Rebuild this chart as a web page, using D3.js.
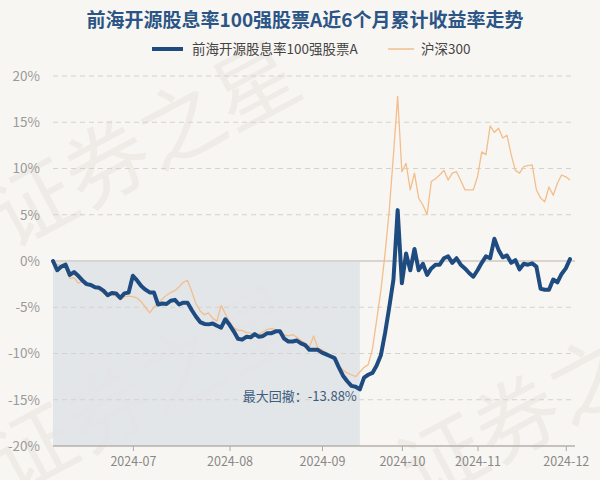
<!DOCTYPE html>
<html lang="zh">
<head>
<meta charset="utf-8">
<title>前海开源股息率100强股票A近6个月累计收益率走势</title>
<script src="https://d3js.org/d3.v7.min.js"></script>
<style>
  body { margin: 0; background: #f8f6f2; }
  svg { display: block; font-family: "Noto Sans CJK SC", "Noto Sans", sans-serif; }
</style>
</head>
<body>
<svg width="600" height="480"></svg>
<script>
// month tick labels and the trading-day index they sit on
var tickLabels = ["2024-07", "2024-08", "2024-09", "2024-10", "2024-11", "2024-12"];
var tickIdx = [19, 42, 64, 83, 101, 122];
var yTicks = [-20, -15, -10, -5, 0, 5, 10, 15, 20];

var seriesNames = ["前海开源股息率100强股票A", "沪深300"];

// cumulative return (%) per trading day
var fund = [0, -1.0, -0.6, -0.4, -1.5, -1.2, -1.6, -2.1, -2.5, -2.6,
  -2.85, -2.9, -3.2, -3.7, -3.45, -3.5, -4.0, -3.5, -3.4, -1.6,
  -2.1, -2.7, -3.1, -3.4, -3.4, -4.7, -4.6, -4.65, -4.3, -4.2,
  -4.7, -4.5, -4.5, -5.3, -6.0, -6.6, -6.8, -6.85, -6.75, -7.0,
  -7.2, -6.3, -6.9, -7.6, -8.4, -8.5, -8.2, -8.25, -7.9, -8.2,
  -8.1, -7.8, -7.8, -7.6, -7.6, -8.4, -8.7, -8.7, -8.6, -8.9,
  -9.1, -9.6, -9.6, -9.6, -9.9, -10.1, -10.3, -10.5, -11.5, -12.4,
  -13.0, -13.5, -13.6, -13.88, -12.6, -12.3, -12.1, -11.3, -10.2, -7.8,
  -5.0, -2.0, 5.5, -2.4, 0.8, -1.0, 1.3, -1.0, -0.3, -1.5,
  -0.8, -0.4, -0.4, 0.3, 0.5, -0.2, 0.3, -0.4, -0.8, -1.3,
  -1.7, -1.0, -0.2, 0.5, 0.3, 2.4, 1.2, 0.4, 0.6, -0.2,
  0.1, -0.9, -0.3, -0.4, -0.25, -0.6, -3.0, -3.1, -3.1, -2.0,
  -2.3, -1.4, -0.8, 0.2];

var hs300 = [0, -0.4, -0.5, -0.8, -1.9, -1.8, -2.4, -2.2, -2.4, -2.6,
  -2.8, -3.1, -3.5, -3.8, -3.6, -3.8, -4.2, -3.85, -3.8, -3.85,
  -4.0, -4.4, -5.0, -5.6, -5.0, -4.5, -4.1, -3.7, -3.4, -3.2,
  -2.8, -2.3, -2.1, -3.3, -4.6, -5.4, -5.8, -5.6, -6.2, -6.5,
  -4.8, -5.7, -6.6, -7.2, -7.5, -7.5, -7.75, -7.8, -7.95, -7.9,
  -7.65, -7.4, -7.3, -7.45, -7.55, -8.0, -8.1, -7.95, -8.25, -8.6,
  -8.9, -9.3, -8.1, -9.4, -9.6, -9.9, -10.3, -10.7, -11.3, -11.8,
  -12.1, -12.3, -12.5, -12.0, -11.5, -11.2, -9.5, -6.4, -3.2, 0.8,
  5.5, 11.5, 17.8, 9.65, 10.55, 7.7, 9.5, 6.8, 6.05, 5.0,
  8.6, 8.9, 9.3, 9.8, 8.75, 9.5, 9.65, 8.7, 7.7, 7.7,
  7.7, 9.1, 11.8, 11.5, 14.6, 13.9, 14.35, 13.3, 13.6, 11.5,
  9.8, 9.5, 10.2, 10.3, 10.4, 7.7, 6.8, 6.4, 8.0, 7.1,
  8.4, 9.3, 9.1, 8.75];

var ddStart = 0, ddEnd = 73, ddText = "最大回撤：-13.88%";

var svg = d3.select("svg");
var plotL = 53, plotR = 575, plotT = 76, plotB = 446;

var x = d3.scaleLinear().domain([0, fund.length - 1]).range([plotL, 570]);
var y = d3.scaleLinear().domain([-20, 20]).range([plotB, plotT]);

svg.append("rect").attr("width", 600).attr("height", 480).attr("fill", "#f8f6f2");

// watermark
var wm = svg.append("g").attr("fill", "#efebe6").attr("font-size", 84);
[[10, 250], [10, 495], [420, 505]].forEach(function(p) {
  wm.append("text").attr("transform", "translate(" + p[0] + "," + p[1] + ") rotate(-28)")
    .text("证券之星");
});

// max drawdown shading
svg.append("rect")
  .attr("x", x(ddStart)).attr("y", y(fund[ddStart]))
  .attr("width", x(ddEnd) - x(ddStart)).attr("height", plotB - y(fund[ddStart]))
  .attr("fill", "#dfe3e6").attr("opacity", 0.85);

// grid
svg.append("g").selectAll("line")
  .data(yTicks.filter(function(d) { return d !== 0 && d !== -20; }))
  .enter().append("line")
  .attr("x1", plotL).attr("x2", plotR)
  .attr("y1", function(d) { return y(d); }).attr("y2", function(d) { return y(d); })
  .attr("stroke", "#d6d2cc").attr("stroke-dasharray", "5,4");

svg.append("line").attr("x1", plotL).attr("x2", plotR)
  .attr("y1", y(0)).attr("y2", y(0))
  .attr("stroke", "#d9d4cd").attr("stroke-width", 2);

// y axis labels
var yAxis = svg.append("g")
  .attr("transform", "translate(" + (plotL - 10) + ",0)")
  .call(d3.axisLeft(y).tickValues(yTicks).tickSize(0)
    .tickFormat(function(d) { return d + "%"; }));
yAxis.select(".domain").remove();
yAxis.selectAll("text").attr("fill", "#9a9a9a").attr("font-size", 13.5)
  .attr("font-family", "'Noto Sans CJK SC', sans-serif");

// x axis
var xAxis = svg.append("g")
  .attr("transform", "translate(0," + plotB + ")")
  .call(d3.axisBottom(x).tickValues(tickIdx).tickSize(5).tickPadding(6)
    .tickFormat(function(d, i) { return tickLabels[i]; }));
xAxis.select(".domain").remove();
xAxis.selectAll("line").attr("stroke", "#aaa");
xAxis.selectAll("text").attr("fill", "#888").attr("font-size", 12.5)
  .attr("font-family", "'Noto Sans CJK SC', sans-serif");
svg.append("line").attr("x1", plotL).attr("x2", plotR)
  .attr("y1", plotB).attr("y2", plotB)
  .attr("stroke", "#b5b1ab").attr("stroke-width", 1.5);

var line = d3.line()
  .x(function(d, i) { return x(i); })
  .y(function(d) { return y(d); });

svg.append("path").datum(hs300)
  .attr("d", line).attr("fill", "none")
  .attr("stroke", "#f2be8c").attr("stroke-width", 1.3)
  .attr("stroke-linejoin", "round");

svg.append("path").datum(fund)
  .attr("d", line).attr("fill", "none")
  .attr("stroke", "#1f4c80").attr("stroke-width", 4)
  .attr("stroke-linejoin", "round").attr("stroke-linecap", "round");

svg.append("text")
  .attr("x", x(ddEnd) - 3).attr("y", y(fund[ddEnd]) + 12)
  .attr("text-anchor", "end").attr("font-size", 13)
  .attr("fill", "#3d5d80")
  .text(ddText);

// title
svg.append("text")
  .attr("x", 305).attr("y", 27).attr("text-anchor", "middle")
  .attr("font-size", 19).attr("font-weight", "bold").attr("fill", "#2a5586")
  .text("前海开源股息率100强股票A近6个月累计收益率走势");

// legend
var lg = svg.append("g").attr("font-size", 13.5).attr("fill", "#444");
lg.append("line").attr("x1", 152).attr("x2", 183).attr("y1", 49).attr("y2", 49)
  .attr("stroke", "#1f4c80").attr("stroke-width", 4);
lg.append("text").attr("x", 192).attr("y", 54).text(seriesNames[0]);
lg.append("line").attr("x1", 388).attr("x2", 414).attr("y1", 49).attr("y2", 49)
  .attr("stroke", "#f2be8c").attr("stroke-width", 1.5);
lg.append("text").attr("x", 421).attr("y", 54).text(seriesNames[1]);
</script>
</body>
</html>
